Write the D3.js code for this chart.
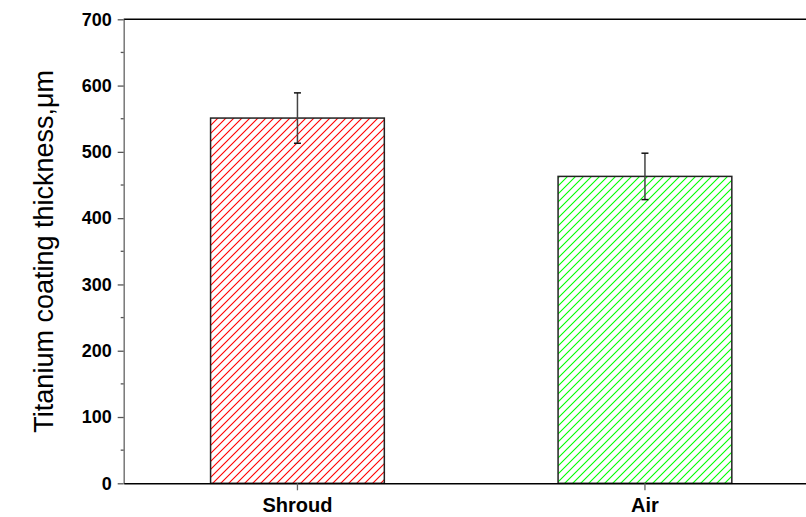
<!DOCTYPE html>
<html>
<head>
<meta charset="utf-8">
<script src="https://cdn.jsdelivr.net/npm/d3@7"></script>
<style>
html,body{margin:0;padding:0;background:#fff;}
svg{display:block;}
</style>
</head>
<body>
<svg id="chart" width="806" height="517"></svg>
<script>
const categories = ["Shroud", "Air"];
const values = [551, 463];
const errors = [38, 35];
const colors = ["#ff0000", "#00ff00"];
const yTicks = [0, 100, 200, 300, 400, 500, 600, 700];
const yMinorTicks = [50, 150, 250, 350, 450, 550, 650];
const yTitle = "Titanium coating thickness,\u03bcm";

(function () {
const svg = d3.select("#chart");
const mLeft = 123.7, mRight = 818.7, mTop = 19.3, mBottom = 483.3;

const x = d3.scaleBand().domain(categories).range([mLeft, mRight]).paddingInner(0.5).paddingOuter(0.25);
const y = d3.scaleLinear().domain([0, 700]).range([mBottom, mTop]);

const defs = svg.append("defs");
categories.forEach((c, i) => {
  const p = defs.append("pattern").attr("id", "hatch" + i)
    .attr("patternUnits", "userSpaceOnUse").attr("width", 8).attr("height", 8);
  p.append("rect").attr("width", 8).attr("height", 8).attr("fill", "#fff");
  p.append("path").attr("d", "M-2,2 L2,-2 M0,8 L8,0 M6,10 L10,6")
    .attr("stroke", colors[i]).attr("stroke-width", 1.1);
});

// bars
svg.append("g").selectAll("rect").data(categories).join("rect")
  .attr("x", d => x(d)).attr("y", (d, i) => y(values[i]))
  .attr("width", x.bandwidth()).attr("height", (d, i) => mBottom - y(values[i]))
  .attr("fill", (d, i) => `url(#hatch${i})`)
  .attr("stroke", "#222").attr("stroke-width", 1.5);

// error bars
const eg = svg.append("g");
categories.forEach((c, i) => {
  const cx = x(c) + x.bandwidth() / 2;
  eg.append("line").attr("x1", cx).attr("x2", cx)
    .attr("y1", y(values[i] + errors[i])).attr("y2", y(values[i] - errors[i]))
    .attr("stroke", "#444").attr("stroke-width", 1.5);
  [values[i] + errors[i], values[i] - errors[i]].forEach(v => {
    eg.append("line").attr("x1", cx - 3.5).attr("x2", cx + 3.5)
      .attr("y1", y(v)).attr("y2", y(v)).attr("stroke", "#111").attr("stroke-width", 1.5);
  });
});

// top line
svg.append("line").attr("x1", mLeft).attr("x2", mRight).attr("y1", mTop).attr("y2", mTop)
  .attr("stroke", "#000").attr("stroke-width", 1.5);

// y axis
const yAxis = svg.append("g").attr("transform", `translate(${mLeft},0)`)
  .call(d3.axisLeft(y).tickValues(yTicks).tickSize(6).tickPadding(6).tickSizeOuter(0));
yAxis.select(".domain").attr("stroke", "#777").attr("stroke-width", 1.5);
yAxis.selectAll(".tick line").attr("stroke", "#555").attr("stroke-width", 1.3);
yAxis.selectAll("text").attr("font-family", "Liberation Sans, Arial, sans-serif")
  .attr("font-weight", "bold").attr("font-size", "18px").attr("fill", "#000");
svg.append("g").selectAll("line").data(yMinorTicks).join("line")
  .attr("x1", mLeft - 3).attr("x2", mLeft).attr("y1", d => y(d)).attr("y2", d => y(d))
  .attr("stroke", "#555").attr("stroke-width", 1.3);

// x axis
const xAxis = svg.append("g").attr("transform", `translate(0,${mBottom})`)
  .call(d3.axisBottom(x).tickSize(7).tickPadding(8).tickSizeOuter(0));
xAxis.select(".domain").attr("stroke", "#000").attr("stroke-width", 1.5);
xAxis.selectAll(".tick line").attr("stroke", "#666").attr("stroke-width", 1.3);
xAxis.selectAll("text").attr("font-family", "Liberation Sans, Arial, sans-serif")
  .attr("font-weight", "bold").attr("font-size", "20px").attr("fill", "#000");

// y title
svg.append("text").attr("transform", `translate(52.7,${(mTop + mBottom) / 2}) rotate(-90)`)
  .attr("text-anchor", "middle").attr("font-family", "Liberation Sans, Arial, sans-serif")
  .attr("font-size", "27px").attr("fill", "#000").text(yTitle);
})();
</script>
</body>
</html>
